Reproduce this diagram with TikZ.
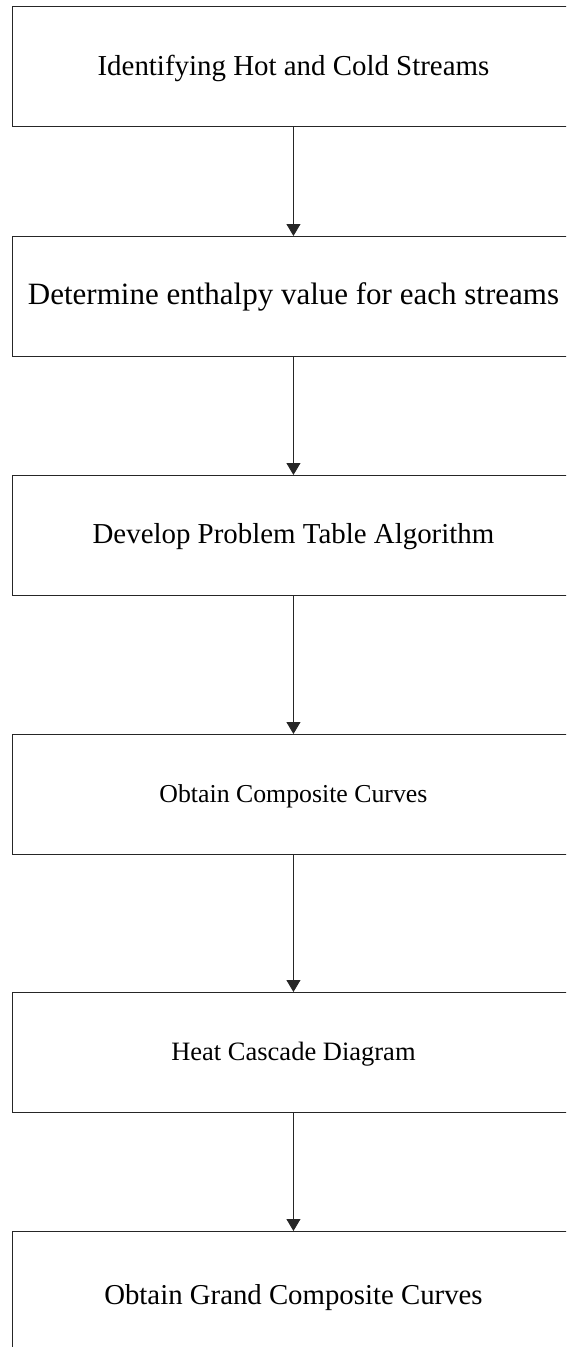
\documentclass[tikz,border=0pt]{standalone}
\usepackage{fontspec}
\setmainfont{Liberation Serif}
\usetikzlibrary{arrows.meta}
\begin{document}
\begin{tikzpicture}[x=1pt,y=-1pt,
  stepbox/.style={draw=black!85, line width=0.9pt, minimum width=562pt,
    minimum height=120pt, inner sep=0pt, anchor=north west,
    text height=20pt, text depth=4pt},
  flow/.style={draw=black!85, line width=0.9pt,
    -{Triangle[width=14pt,length=12pt]}}]
\useasboundingbox (0,0) rectangle (566,1347);
\clip (0,0) rectangle (566,1347);
\node[stepbox, font=\fontsize{28.9}{34}\selectfont,
  text height=22pt, text depth=2pt] (s1) at (12,5.5)
  {Identifying Hot and Cold Streams};
\node[stepbox, font=\fontsize{31}{36}\selectfont] (s2) at (12,236)
  {Determine enthalpy value for each streams};
\node[stepbox, font=\fontsize{28.9}{34}\selectfont] (s3) at (12,475)
  {Develop Problem Table Algorithm};
\node[stepbox, font=\fontsize{25.8}{30}\selectfont] (s4) at (12,734)
  {Obtain Composite Curves};
\node[stepbox, font=\fontsize{26.5}{30}\selectfont] (s5) at (12,992)
  {Heat Cascade Diagram};
\node[stepbox, font=\fontsize{28.8}{34}\selectfont,
  text height=26pt, text depth=0pt] (s6) at (12,1231)
  {Obtain Grand Composite Curves};
\draw[flow] (s1.south) -- (s2.north);
\draw[flow] (s2.south) -- (s3.north);
\draw[flow] (s3.south) -- (s4.north);
\draw[flow] (s4.south) -- (s5.north);
\draw[flow] (s5.south) -- (s6.north);
\end{tikzpicture}
\end{document}
